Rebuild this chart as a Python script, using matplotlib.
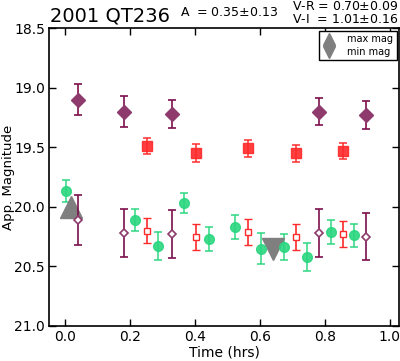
import matplotlib
matplotlib.use('Agg')
import matplotlib.pyplot as plt
from matplotlib.lines import Line2D

# I band (filled diamonds)
t_i = [0.038, 0.180, 0.328, 0.782, 0.926]
mag_i = [19.10, 19.20, 19.22, 19.20, 19.23]
err_i = [0.13, 0.13, 0.12, 0.115, 0.117]

# R band (filled squares)
t_r = [0.251, 0.402, 0.563, 0.711, 0.854]
mag_r = [19.49, 19.55, 19.51, 19.55, 19.53]
err_r = [0.07, 0.075, 0.075, 0.07, 0.07]

# V band (circles)
t_v = [0.001, 0.216, 0.287, 0.365, 0.442, 0.524, 0.602, 0.674, 0.746, 0.818, 0.889]
mag_v = [19.87, 20.11, 20.33, 19.97, 20.27, 20.17, 20.35, 20.34, 20.42, 20.21, 20.24]
err_v = [0.092, 0.093, 0.117, 0.085, 0.103, 0.103, 0.13, 0.108, 0.118, 0.10, 0.10]

# I and R shifted to V (open markers)
mag_i_v = [20.11, 20.22, 20.23, 20.22, 20.25]
err_i_v = [0.21, 0.205, 0.20, 0.20, 0.20]
mag_r_v = [20.20, 20.25, 20.21, 20.25, 20.23]
err_r_v = [0.107, 0.11, 0.11, 0.11, 0.11]

# max / min magnitude of the fitted curve
t_max, mag_max = 0.018, 20.00
t_min, mag_min = 0.639, 20.35

C_I = '#7d0f4c'
C_IF = '#8e3a6c'
C_R = '#ff2a2a'
C_V = '#2ad67f'
C_GRAY = '#7f7f7f'

fig = plt.figure(figsize=(4.0, 3.61), dpi=100)
ax = fig.add_axes([0.1225, 0.097, 0.875, 0.825])

ax.errorbar(t_v, mag_v, yerr=err_v, fmt='o', ms=7, color=C_V, mec=C_V,
            ecolor=C_V, elinewidth=1.2, capsize=3, capthick=1.2, alpha=0.9)
ax.plot([t_max], [mag_max], marker='^', ms=16, color=C_GRAY, ls='none')
ax.plot([t_min], [mag_min], marker='v', ms=16, color=C_GRAY, ls='none')
ax.errorbar(t_i, mag_i, yerr=err_i, fmt='D', ms=7, color=C_IF, mec=C_IF,
            ecolor=C_I, elinewidth=1.2, capsize=3, capthick=1.2)
ax.errorbar(t_r, mag_r, yerr=err_r, fmt='s', ms=7, color=C_R, mec=C_R,
            ecolor=C_R, elinewidth=1.2, capsize=3, capthick=1.2, alpha=0.9)
ax.errorbar(t_i, mag_i_v, yerr=err_i_v, fmt='D', ms=4, mfc='white', mec=C_IF,
            mew=1.2, ecolor=C_I, elinewidth=1.2, capsize=3, capthick=1.2)
ax.errorbar(t_r, mag_r_v, yerr=err_r_v, fmt='s', ms=5, mfc='white', mec=C_R,
            mew=1.0, ecolor=C_R, elinewidth=1.2, capsize=3, capthick=1.2)

ax.set_xlim(-0.05, 1.028)
ax.set_ylim(21.0, 18.5)
ax.set_xticks([0.0, 0.2, 0.4, 0.6, 0.8, 1.0])
ax.set_yticks([18.5, 19.0, 19.5, 20.0, 20.5, 21.0])
ax.tick_params(direction='in', top=True, right=True, labelsize=10, length=5,
               width=1, pad=3)
ax.set_xticklabels(['0.0', '0.2', '0.4', '0.6', '0.8', '1.0'])
ax.set_yticklabels(['18.5', '19.0', '19.5', '20.0', '20.5', '21.0'])
for s in ax.spines.values():
    s.set_linewidth(1.2)
ax.set_xlabel('Time (hrs)', fontsize=10, labelpad=1)
ax.set_ylabel('App. Magnitude', fontsize=9.5)
ax.yaxis.set_label_coords(-0.097, 0.5)

handles = [Line2D([], [], marker='^', ms=9, color=C_GRAY, ls='none'),
           Line2D([], [], marker='v', ms=9, color=C_GRAY, ls='none')]
ax.legend(handles, ['max mag', 'min mag'], loc='upper right', fontsize=7,
          labelspacing=0.3, handletextpad=1.2, handlelength=1.3, borderpad=0.35,
          fancybox=False, edgecolor='black', framealpha=1, borderaxespad=0.25)

fig.text(0.125, 0.94, '2001 QT236', fontsize=14, ha='left', va='baseline')
fig.text(0.45, 0.956, 'A  = 0.35$\\pm$0.13', fontsize=9, ha='left', va='baseline')
fig.text(0.997, 0.972, 'V-R = 0.70$\\pm$0.09', fontsize=9, ha='right', va='baseline')
fig.text(0.997, 0.935, 'V-I  = 1.01$\\pm$0.16', fontsize=9, ha='right', va='baseline')

fig.savefig('out.png', dpi=100)
